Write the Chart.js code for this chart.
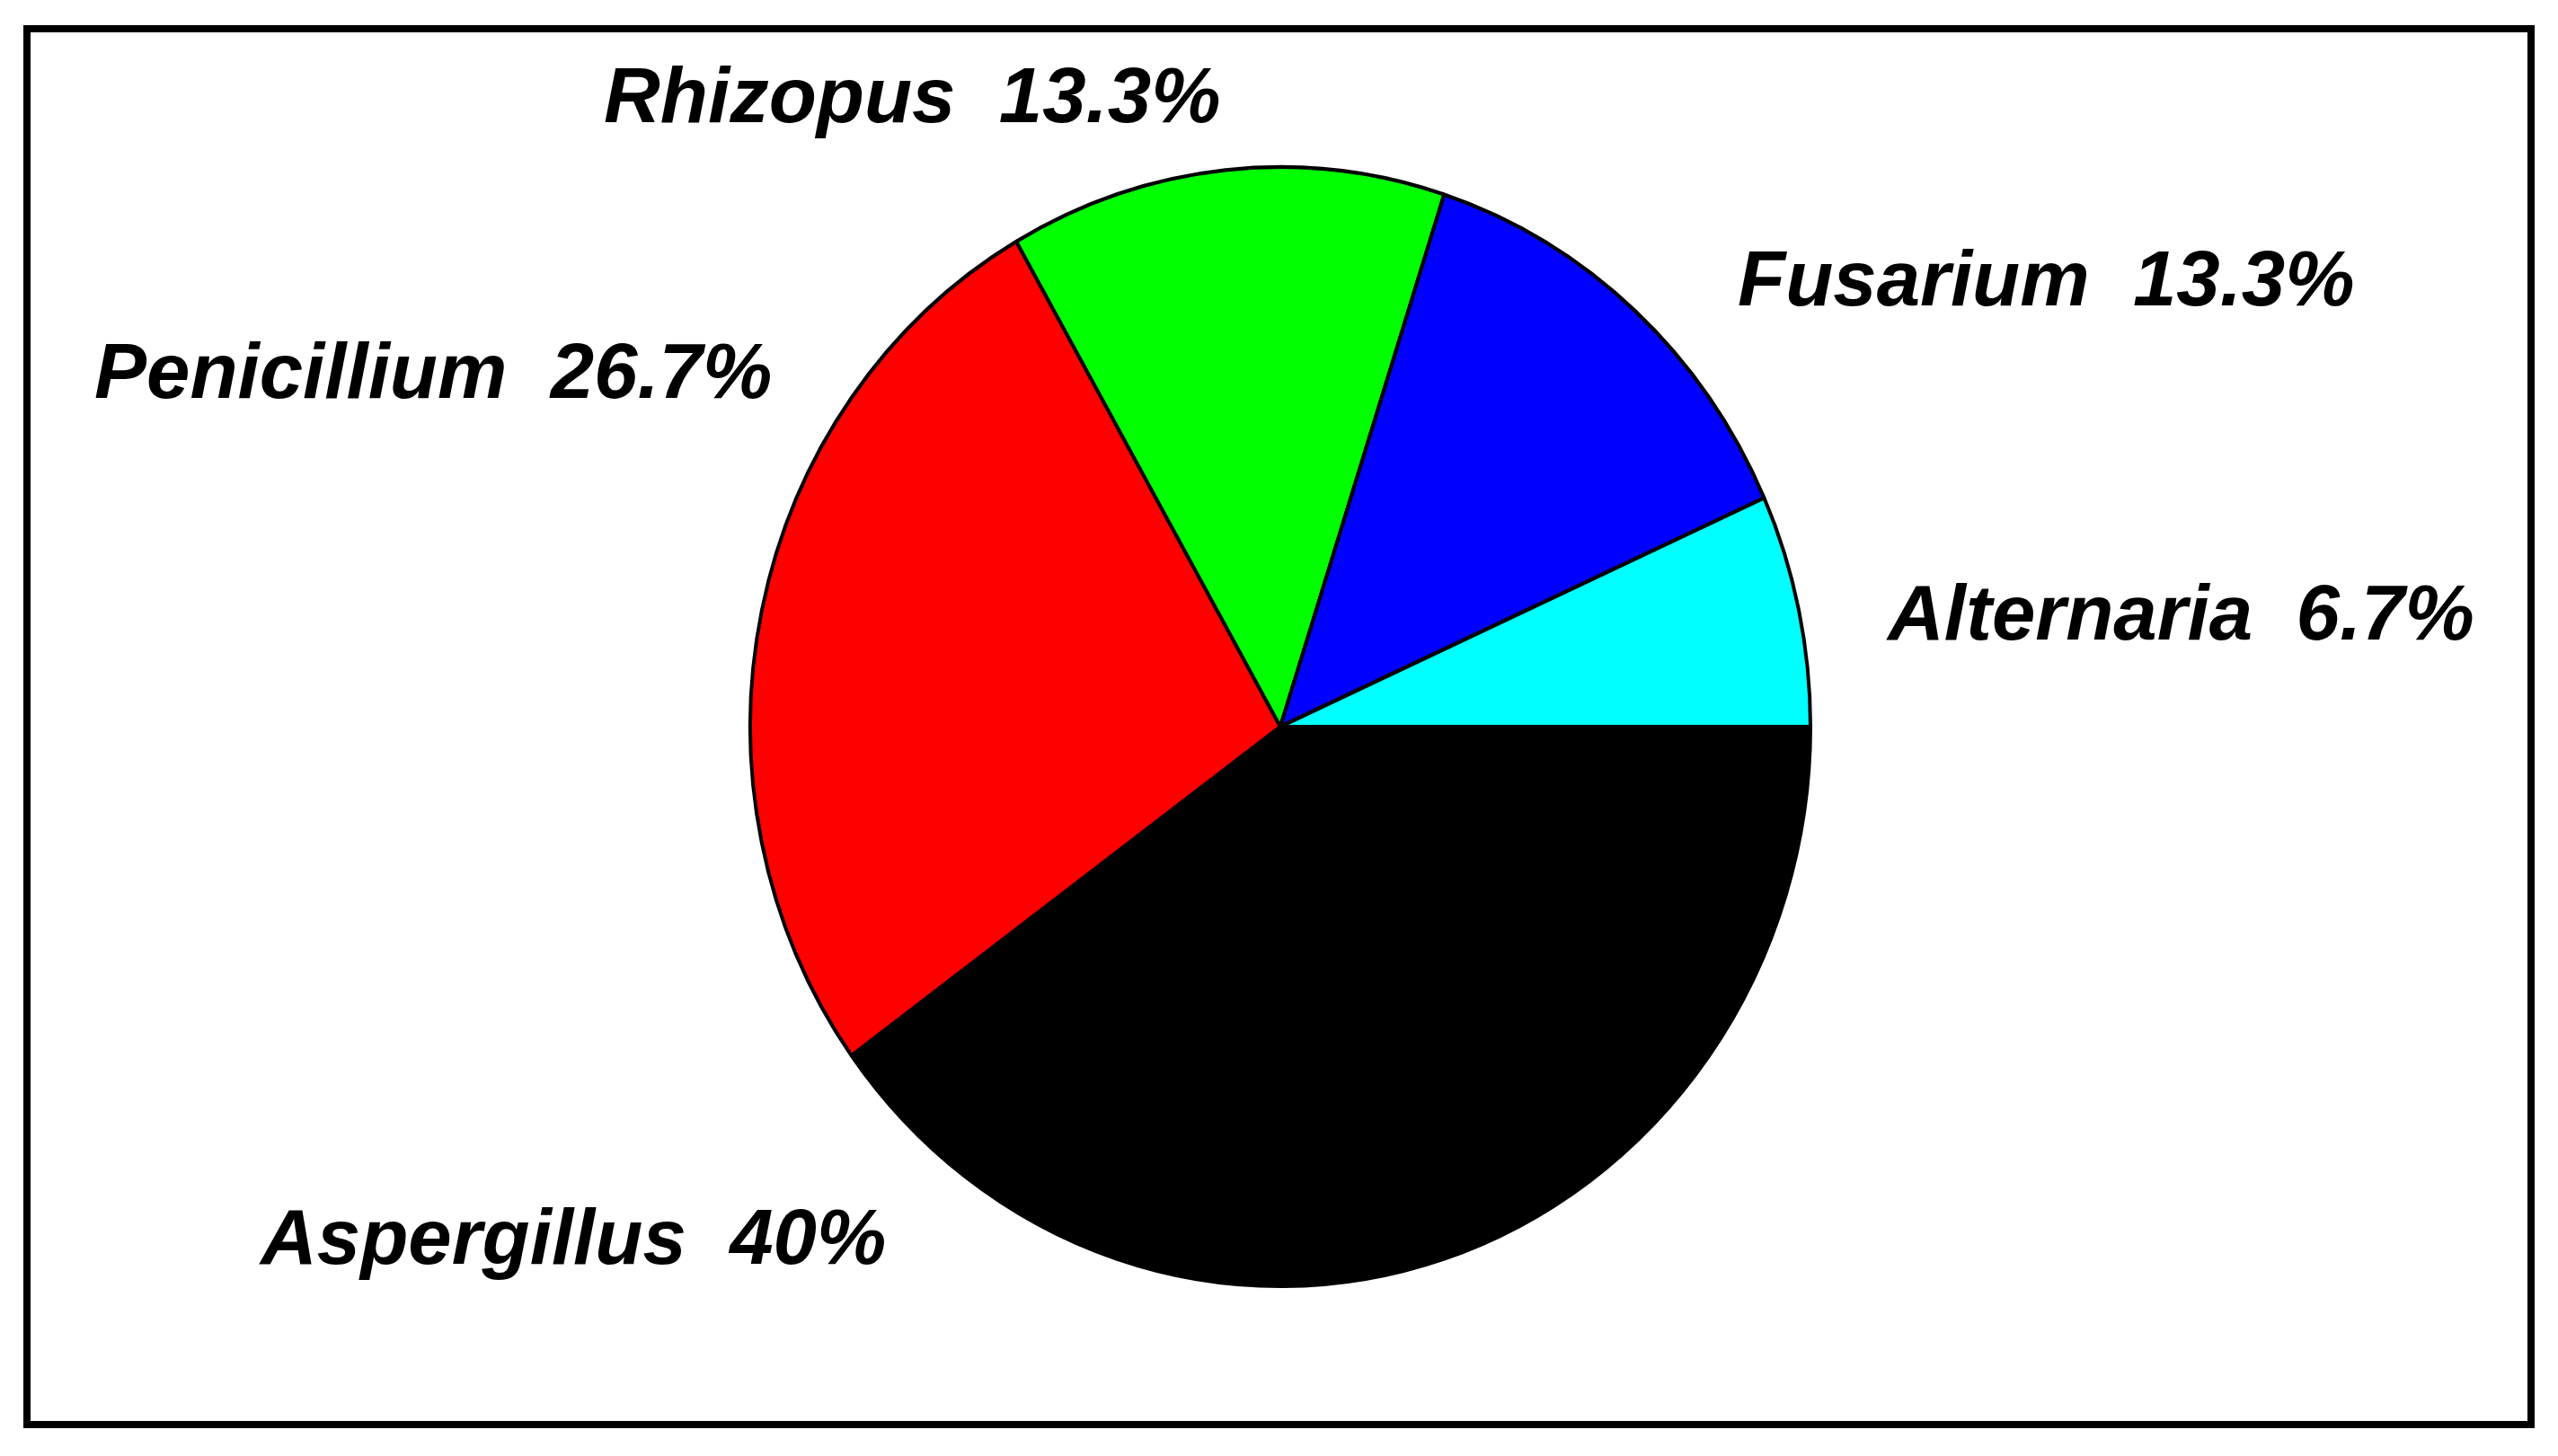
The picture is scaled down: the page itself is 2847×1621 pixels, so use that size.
<!DOCTYPE html>
<html lang="en">
<head>
    <meta charset="UTF-8">
    <title>Fungi pie</title>
    <script src="https://cdn.jsdelivr.net/npm/chart.js"></script>
    <style>
        body {
        margin: 0;
        background-color: #fff;
        }
        .wrap {
        position: relative;
        width: 2847px;
        height: 1621px;
        }
        .frame {
        position: absolute;
        left: 26px;
        top: 28px;
        width: 2779px;
        height: 1546px;
        border: 8px solid #000;
        pointer-events: none;
        }
    </style>
    <script>
        // data (clockwise from 3 o'clock)
        const genera = ["Aspergillus", "Penicillium", "Rhizopus", "Fusarium", "Alternaria"];
        const percents = [40, 26.7, 13.3, 13.3, 6.7];
        const sliceColors = ["#000000", "#ff0000", "#00ff00", "#0000ff", "#00ffff"];

        // where each label text sits (left x, baseline y)
        const labelSpots = [
            [290, 1407],
            [105, 443],
            [672, 136],
            [1934, 340],
            [2101, 712]
        ];

        // the pie in the picture is a little taller than wide
        const yStretch = 623 / 590;

        const stretchPlugin = {
            id: 'stretch',
            beforeDatasetsDraw(chart) {
                const arc = chart.getDatasetMeta(0).data[0];
                const ctx = chart.ctx;
                ctx.save();
                ctx.translate(arc.x, arc.y);
                ctx.scale(1, yStretch);
                ctx.translate(-arc.x, -arc.y);
            },
            afterDatasetsDraw(chart) {
                chart.ctx.restore();
            }
        };

        const labelPlugin = {
            id: 'sliceLabels',
            afterDraw(chart) {
                const ctx = chart.ctx;
                ctx.save();
                ctx.font = "italic bold 87px 'Liberation Sans', Arial, sans-serif";
                ctx.fillStyle = "#000";
                ctx.textAlign = "left";
                ctx.textBaseline = "alphabetic";
                genera.forEach((name, i) => {
                    const spot = labelSpots[i];
                    ctx.fillText(`${name}  ${percents[i]}%`, spot[0], spot[1]);
                });
                ctx.restore();
            }
        };

        document.addEventListener("DOMContentLoaded", function () {
            const ctx = document.getElementById("pie").getContext("2d");
            new Chart(ctx, {
                type: 'pie',
                data: {
                    labels: genera,
                    datasets: [{
                        data: percents,
                        backgroundColor: sliceColors,
                        borderColor: '#000',
                        borderWidth: 4
                    }]
                },
                options: {
                    responsive: false,
                    animation: false,
                    rotation: 90,
                    layout: {
                        padding: { top: 217, bottom: 220, left: 300, right: 297 }
                    },
                    plugins: {
                        legend: { display: false },
                        tooltip: { enabled: false }
                    }
                },
                plugins: [stretchPlugin, labelPlugin]
            });
        });
    </script>
</head>
<body>
    <div class="wrap">
        <canvas id="pie" width="2847" height="1621"></canvas>
        <div class="frame"></div>
    </div>
</body>
</html>
